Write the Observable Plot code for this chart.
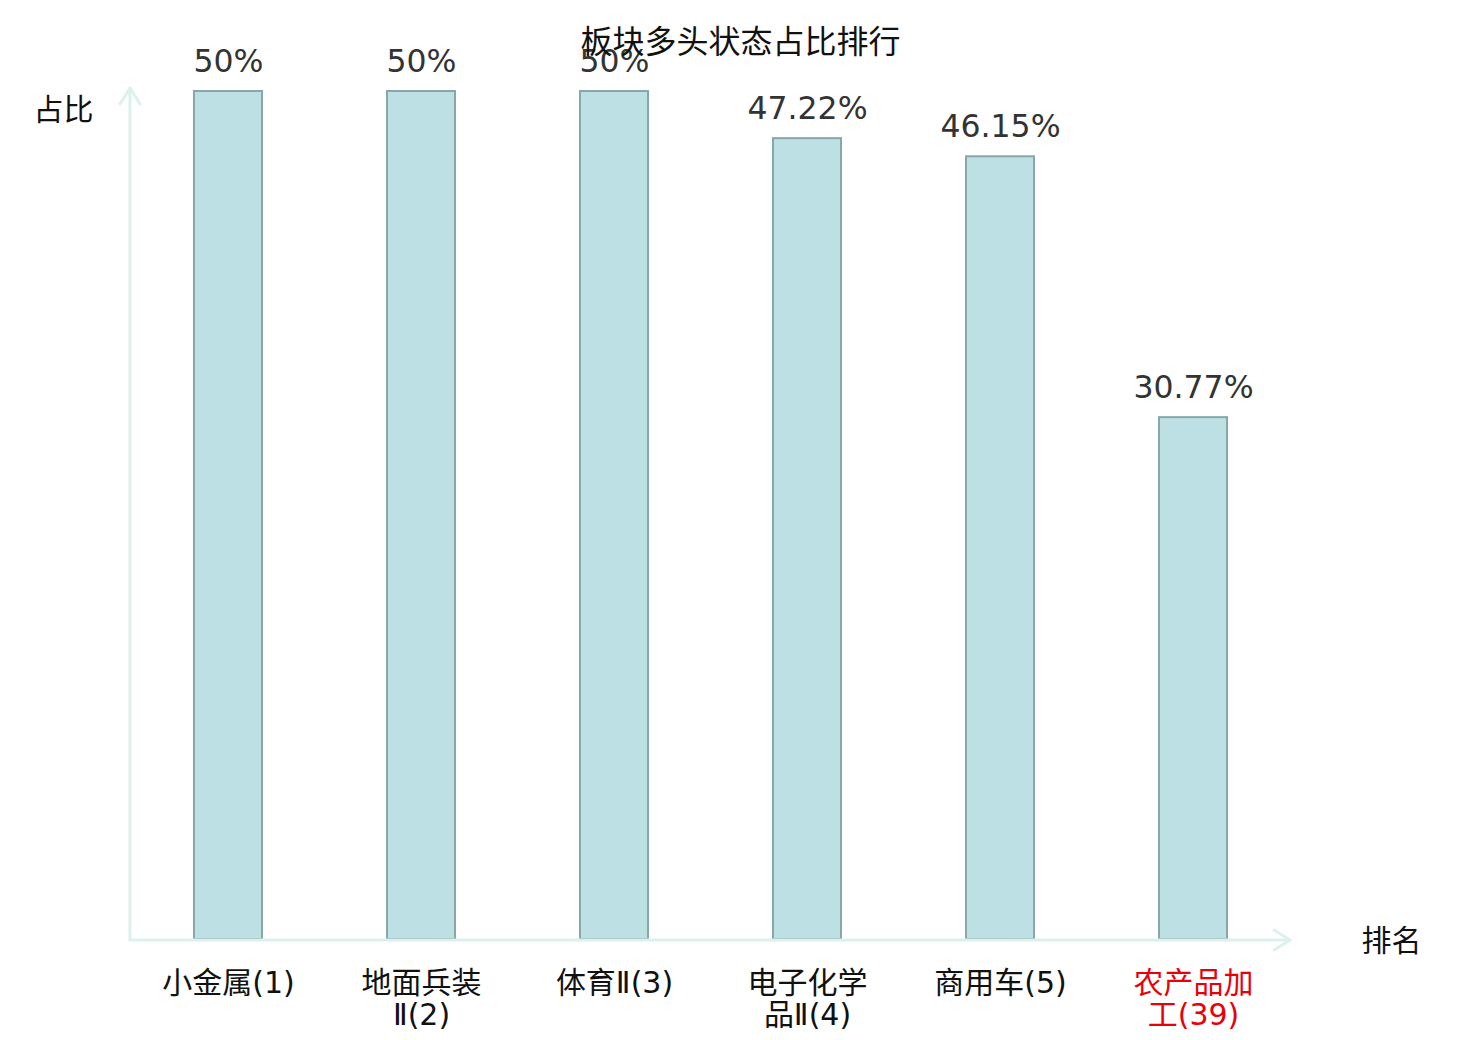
<!DOCTYPE html>
<html>
<head>
<meta charset="utf-8">
<script src="https://cdn.jsdelivr.net/npm/d3@7"></script>
<script src="https://cdn.jsdelivr.net/npm/@observablehq/plot@0.6"></script>
<style>
  html, body { margin: 0; padding: 0; background: #fff; }
  #chart svg { display: block; }
</style>
</head>
<body>
<div id="chart"></div>
<script>
const title = "板块多头状态占比排行";
const categories = ["小金属(1)", "地面兵装\nⅡ(2)", "体育Ⅱ(3)", "电子化学\n品Ⅱ(4)", "商用车(5)", "农产品加\n工(39)"];
const values = [50, 50, 50, 47.22, 46.15, 30.77];
const valueLabels = ["50%", "50%", "50%", "47.22%", "46.15%", "30.77%"];
const highlighted = ["农产品加\n工(39)"];
const yAxisLabel = "占比";
const xAxisLabel = "排名";

const data = categories.map((c, i) => ({cat: c, value: values[i], label: valueLabels[i]}));

const axisColor = "#dcf1ee";

function axesArrows(index, scales, values, dimensions) {
  const xr = scales.scales.x.range;
  const yr = scales.scales.y.range;
  const yb = scales.y(0) + 1;
  const g = d3.create("svg:g")
    .attr("fill", "none")
    .attr("stroke", axisColor)
    .attr("stroke-width", 3)
    .attr("stroke-linecap", "round")
    .attr("stroke-linejoin", "round");
  const left = xr[0], right = xr[1];
  const top = yr[1] - 3;
  g.append("path").attr("d", `M${left},${yb}H${right}`);
  g.append("path").attr("d", `M${right - 16},${yb - 10}L${right},${yb}L${right - 16},${yb + 10}`);
  g.append("path").attr("d", `M${left},${yb}V${top}`);
  g.append("path").attr("d", `M${left - 10},${top + 16}L${left},${top}L${left + 10},${top + 16}`);
  return g.node();
}

const chart = Plot.plot({
  width: 1480,
  height: 1040,
  margin: 0,
  style: {fontFamily: "'Noto Sans CJK SC', 'DejaVu Sans', sans-serif", background: "#fff"},
  x: {domain: categories, range: [130, 1290], paddingInner: 0.65, paddingOuter: 0.325, axis: null},
  y: {domain: [0, 50], range: [939, 91], axis: null},
  color: {type: "identity"},
  marks: [
    Plot.barY(data, {x: "cat", y: "value", fill: "#bce0e3", stroke: "#88a7a8", strokeWidth: 2}),
    axesArrows,
    Plot.text(data, {x: "cat", y: "value", text: "label", dy: -30, fontSize: 31.5, fill: "#333",
      fontFamily: "'DejaVu Sans', sans-serif"}),
    Plot.text(data, {x: "cat", y: 0, text: "cat", lineAnchor: "top", dy: 31, fontSize: 30, lineHeight: 1.07,
      fontFamily: "'DejaVu Sans', 'Noto Sans CJK SC', sans-serif",
      fill: d => highlighted.includes(d.cat) ? "#e8000b" : "#111"}),
    Plot.text([title], {frameAnchor: "top", lineAnchor: "middle", dy: 42, text: d => d, fontSize: 32, fill: "#111"}),
    Plot.text([yAxisLabel], {frameAnchor: "top-left", lineAnchor: "middle", dx: 33, dy: 110, text: d => d, fontSize: 30, fill: "#111", textAnchor: "start"}),
    Plot.text([xAxisLabel], {frameAnchor: "top-left", lineAnchor: "middle", dx: 1361, dy: 941, text: d => d, fontSize: 30, fill: "#111", textAnchor: "start"})
  ]
});
document.getElementById("chart").append(chart);
</script>
</body>
</html>
